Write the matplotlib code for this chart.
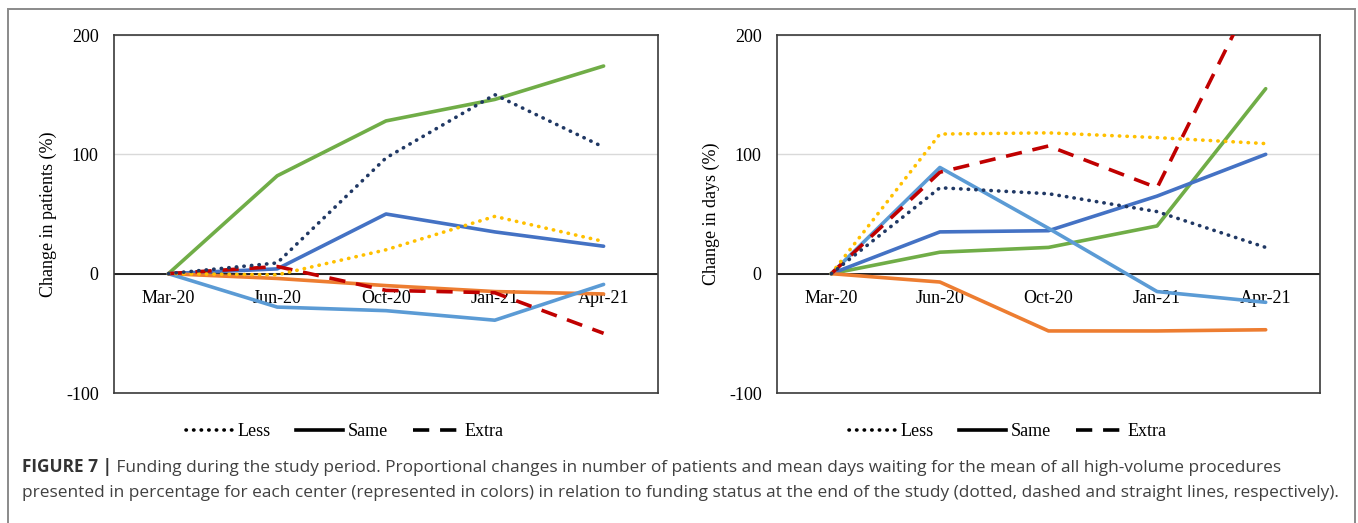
import numpy as np
import matplotlib; matplotlib.use('Agg')
import matplotlib.pyplot as plt
from matplotlib.lines import Line2D
from matplotlib.patches import Rectangle

plt.rcParams['axes.unicode_minus'] = False

# ── data ──────────────────────────────────────────────────────────────────────
MONTHS = ['Mar-20', 'Jun-20', 'Oct-20', 'Jan-21', 'Apr-21']
Y_TICKS = [-100, 0, 100, 200]

# change in patients (%)
navy_less_pat    = [0, 9, 97, 150, 106]
yellow_less_pat  = [0, -1, 20, 48, 27]
red_extra_pat    = [0, 6, -14, -16, -50]
blue_same_pat    = [0, 4, 50, 35, 23]
orange_same_pat  = [0, -4, -10, -15, -17]
ltblue_same_pat  = [0, -28, -31, -39, -9]
green_same_pat   = [0, 82, 128, 146, 174]

# change in days (%)
navy_less_days   = [0, 72, 67, 52, 22]
yellow_less_days = [0, 117, 118, 114, 109]
red_extra_days   = [0, 85, 107, 72, 255]
blue_same_days   = [0, 35, 36, 65, 100]
orange_same_days = [0, -7, -48, -48, -47]
ltblue_same_days = [0, 89, 38, -15, -24]
green_same_days  = [0, 18, 22, 40, 155]

# ── styles ────────────────────────────────────────────────────────────────────
DOT  = (0, (0.1, 2.0))
DASH = (0, (4.5, 3.0))
LS = {'Less': DOT, 'Same': '-', 'Extra': DASH}
SERIES = [  # (colour, funding status)
    ('#70AD47', 'Same'),
    ('#4472C4', 'Same'),
    ('#ED7D31', 'Same'),
    ('#5B9BD5', 'Same'),
    ('#C00000', 'Extra'),
    ('#FFC000', 'Less'),
    ('#203864', 'Less'),
]
patients = [green_same_pat, blue_same_pat, orange_same_pat, ltblue_same_pat,
            red_extra_pat, yellow_less_pat, navy_less_pat]
days     = [green_same_days, blue_same_days, orange_same_days, ltblue_same_days,
            red_extra_days, yellow_less_days, navy_less_days]

SERIF = 'Liberation Serif'
FS = 13

W, H = 1358, 523
fig = plt.figure(figsize=(W / 100, H / 100), dpi=100)

def px(x0, y0, x1, y1):
    return [x0 / W, 1 - y1 / H, (x1 - x0) / W, (y1 - y0) / H]

def draw(ax, data, ylabel):
    x = np.arange(len(MONTHS))
    for (col, status), vals in zip(SERIES, data):
        ax.plot(x, vals, color=col, lw=2.6, ls=LS[status],
                dash_capstyle='round' if status == 'Less' else 'butt',
                solid_capstyle='round', zorder=3)
    ax.set_xlim(-0.5, len(MONTHS) - 0.5)
    ax.set_ylim(-100, 200)
    ax.set_yticks(Y_TICKS)
    ax.set_yticklabels([str(v) for v in Y_TICKS], fontfamily=SERIF, fontsize=FS)
    ax.tick_params(axis='y', length=0, pad=11)
    ax.set_xticks([])
    ax.grid(axis='y', color='#D9D9D9', lw=1.0, zorder=0)
    ax.axhline(0, color='black', lw=1.2, zorder=2)
    for sp in ax.spines.values():
        sp.set_color('#3a3a3a')
        sp.set_linewidth(1.2)
    # category labels sit just under the zero line
    sec = ax.secondary_xaxis(1 / 3)
    sec.set_xticks(x)
    sec.set_xticklabels(MONTHS, fontfamily=SERIF, fontsize=FS)
    sec.tick_params(length=0, pad=12)
    sec.spines['bottom'].set_visible(False)
    ax.set_ylabel(ylabel, fontfamily=SERIF, fontsize=FS, va='center')
    ax.yaxis.set_label_coords(-0.121, 0.5)

ax1 = fig.add_axes(px(114, 35, 658, 393))
ax2 = fig.add_axes(px(777, 35, 1320, 393))
draw(ax1, patients, 'Change in patients (%)')
draw(ax2, days, 'Change in days (%)')

handles = [Line2D([], [], color='black', lw=2.6, ls=LS[k],
                  dash_capstyle='round' if k == 'Less' else 'butt') for k in LS]
for cx in (345, 1008):
    fig.legend(handles, list(LS), loc='center', bbox_to_anchor=(cx / W, 1 - 432 / H),
               ncol=3, frameon=False, handlelength=2.6, handletextpad=0.25,
               columnspacing=1.4, prop={'family': SERIF, 'size': FS})

# outer frame
fig.patches.append(Rectangle((7.5 / W, -0.05), (1355 - 7.5) / W, 1.05 - 8.5 / H,
                             transform=fig.transFigure, fill=False,
                             edgecolor='#8a8a8a', lw=1.4))

# caption
CAP_FONT = 'Open Sans'
CAP_FS = 12.45
CAP_COL = '#404040'
line1 = ('Funding during the study period. Proportional changes in number of patients and mean days '
         'waiting for the mean of all high-volume procedures')
line2 = ('presented in percentage for each center (represented in colors) in relation to funding status '
         'at the end of the study (dotted, dashed and straight lines, respectively).')
t1 = fig.text(22 / W, 1 - 472 / H, 'FIGURE 7 |', fontfamily=CAP_FONT, fontsize=CAP_FS,
              fontweight='bold', color='#333333', va='baseline')
fig.add_artist(plt.Annotation(' ' + line1, xy=(1, 0), xycoords=t1, va='bottom', ha='left',
                              fontfamily=CAP_FONT, fontsize=CAP_FS, color=CAP_COL,
                              annotation_clip=False))
fig.text(22 / W, 1 - 497 / H, line2, fontfamily=CAP_FONT, fontsize=CAP_FS,
         color=CAP_COL, va='baseline')

fig.savefig('out.png', dpi=100)
